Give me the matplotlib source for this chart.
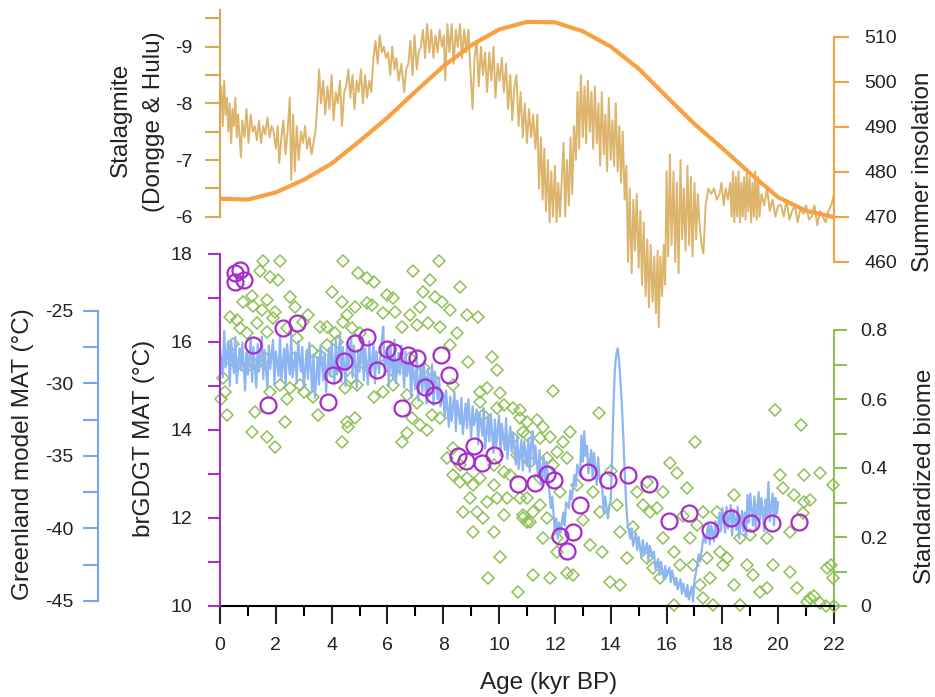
import numpy as np
import matplotlib
matplotlib.use("Agg")
import matplotlib.pyplot as plt
from matplotlib.ticker import MultipleLocator

plt.rcParams['font.family'] = ['Liberation Sans', 'DejaVu Sans']
plt.rcParams['axes.unicode_minus'] = False

# ---- data ----
# stalagmite d18O (Dongge & Hulu), (age kyr BP, permil)
stalagmite = [
    (0.00, -7.9), (0.05, -8.3), (0.10, -7.6), (0.15, -8.4), (0.20, -7.8), (0.25, -8.1), (0.30, -7.5),
    (0.35, -8.0), (0.40, -7.3), (0.45, -7.9), (0.50, -7.6), (0.55, -8.1), (0.60, -7.4), (0.65, -7.8),
    (0.75, -7.05), (0.80, -7.7), (0.88, -7.4), (0.95, -7.9), (1.02, -7.3), (1.10, -7.8), (1.17, -7.5),
    (1.25, -7.6), (1.32, -7.35), (1.40, -7.7), (1.47, -7.3), (1.55, -7.6), (1.62, -7.45), (1.70, -7.75),
    (1.78, -7.4), (1.85, -7.6), (1.92, -7.5), (2.00, -7.2), (2.07, -7.6), (2.12, -6.95), (2.20, -7.4),
    (2.27, -7.7), (2.35, -7.1), (2.42, -7.5), (2.50, -8.1), (2.55, -6.65), (2.62, -7.8), (2.68, -6.8),
    (2.75, -7.6), (2.82, -7.0), (2.90, -7.5), (2.97, -7.3), (3.05, -7.6), (3.12, -7.2), (3.20, -7.4),
    (3.28, -7.1), (3.35, -7.3), (3.42, -7.5), (3.50, -8.1), (3.55, -8.6), (3.62, -8.0), (3.70, -8.4),
    (3.77, -7.8), (3.85, -8.3), (3.92, -7.9), (4.00, -8.5), (4.07, -7.7), (4.15, -8.2), (4.22, -8.0),
    (4.30, -8.4), (4.37, -7.6), (4.45, -8.2), (4.52, -8.3), (4.60, -8.6), (4.67, -8.1), (4.75, -8.5),
    (4.82, -7.9), (4.90, -8.4), (4.97, -8.2), (5.05, -8.6), (5.12, -8.0), (5.20, -8.5), (5.27, -8.1),
    (5.35, -8.4), (5.42, -8.2), (5.50, -8.8), (5.57, -9.1), (5.65, -8.7), (5.72, -9.2), (5.80, -8.9),
    (5.87, -9.0), (5.95, -8.8), (6.02, -8.9), (6.10, -8.5), (6.17, -9.0), (6.25, -8.6), (6.32, -8.8),
    (6.40, -8.4), (6.50, -8.7), (6.60, -8.2), (6.67, -8.6), (6.75, -8.7), (6.82, -9.1), (6.90, -8.5),
    (6.97, -9.2), (7.05, -8.6), (7.12, -8.9), (7.20, -9.0), (7.27, -9.3), (7.35, -8.8), (7.42, -9.4),
    (7.50, -8.9), (7.57, -9.3), (7.65, -8.8), (7.72, -9.2), (7.80, -8.9), (7.87, -9.3), (7.95, -9.0),
    (8.02, -9.2), (8.07, -8.4), (8.15, -9.4), (8.22, -8.9), (8.30, -9.4), (8.37, -8.7), (8.45, -9.3),
    (8.52, -9.0), (8.60, -9.4), (8.67, -8.8), (8.75, -9.3), (8.82, -8.9), (8.90, -9.3), (8.97, -8.6),
    (9.05, -7.9), (9.12, -8.8), (9.20, -9.1), (9.27, -8.3), (9.35, -9.0), (9.42, -8.5), (9.50, -8.9),
    (9.57, -8.2), (9.65, -8.9), (9.72, -8.4), (9.80, -9.0), (9.87, -8.1), (9.95, -8.7), (10.02, -8.4),
    (10.10, -8.8), (10.17, -8.2), (10.25, -8.7), (10.32, -7.9), (10.40, -8.5), (10.47, -7.7), (10.55, -8.3),
    (10.62, -8.5), (10.70, -7.6), (10.77, -8.2), (10.85, -7.4), (10.92, -8.0), (11.00, -7.3), (11.07, -7.9),
    (11.15, -7.4), (11.22, -7.8), (11.30, -7.2), (11.37, -7.8), (11.43, -6.5), (11.50, -7.4), (11.56, -6.3),
    (11.62, -7.2), (11.68, -6.1), (11.75, -7.0), (11.81, -5.9), (11.87, -6.8), (11.93, -6.0), (12.00, -6.9),
    (12.06, -5.9), (12.12, -6.6), (12.18, -6.0), (12.25, -6.7), (12.31, -7.3), (12.37, -6.0), (12.43, -7.0),
    (12.50, -6.2), (12.56, -7.4), (12.62, -6.4), (12.68, -7.6), (12.75, -7.0), (12.81, -8.2), (12.87, -7.2),
    (12.93, -8.5), (13.00, -7.4), (13.06, -8.3), (13.12, -7.3), (13.18, -8.4), (13.25, -7.5), (13.31, -8.2),
    (13.37, -7.2), (13.43, -8.3), (13.50, -7.3), (13.56, -8.0), (13.62, -6.9), (13.68, -8.2), (13.75, -7.1),
    (13.81, -7.8), (13.87, -6.8), (13.93, -8.1), (14.00, -7.0), (14.06, -7.7), (14.12, -6.9), (14.18, -8.0),
    (14.25, -6.8), (14.31, -7.6), (14.37, -6.6), (14.43, -7.5), (14.50, -6.3), (14.56, -6.9), (14.62, -5.2),
    (14.68, -6.5), (14.75, -5.0), (14.81, -6.3), (14.87, -5.4), (14.93, -6.4), (15.00, -5.1), (15.06, -6.1),
    (15.12, -4.8), (15.18, -5.9), (15.25, -4.6), (15.31, -5.6), (15.37, -4.4), (15.43, -5.5), (15.50, -4.5),
    (15.56, -5.3), (15.62, -4.3), (15.68, -5.4), (15.72, -4.05), (15.78, -5.3), (15.84, -4.6), (15.90, -5.5),
    (15.95, -4.8), (16.00, -6.8), (16.06, -5.3), (16.12, -7.1), (16.18, -5.5), (16.25, -6.8), (16.31, -5.2),
    (16.37, -6.6), (16.43, -5.0), (16.50, -7.0), (16.56, -5.6), (16.62, -6.5), (16.68, -5.4), (16.75, -6.9),
    (16.81, -5.5), (16.87, -6.7), (16.93, -5.3), (17.00, -6.6), (17.06, -5.6), (17.12, -6.4), (17.18, -5.9),
    (17.25, -5.5), (17.32, -5.35), (17.40, -6.2), (17.50, -6.5), (17.60, -6.4), (17.70, -6.5), (17.80, -6.3),
    (17.90, -6.4), (17.97, -6.6), (18.05, -6.2), (18.12, -6.5), (18.20, -6.3), (18.28, -6.6), (18.33, -6.0),
    (18.38, -6.8), (18.43, -5.9), (18.48, -6.7), (18.53, -6.0), (18.58, -6.8), (18.63, -5.9), (18.68, -6.6),
    (18.73, -6.0), (18.78, -6.7), (18.83, -5.95), (18.88, -6.8), (18.93, -6.1), (18.98, -6.7), (19.03, -5.9),
    (19.08, -6.6), (19.13, -6.0), (19.18, -6.8), (19.23, -5.95), (19.28, -6.7), (19.33, -6.0), (19.40, -6.4),
    (19.50, -6.2), (19.60, -6.5), (19.70, -6.1), (19.80, -6.3), (19.90, -6.0), (20.00, -6.2), (20.10, -6.2),
    (20.20, -6.0), (20.30, -6.3), (20.40, -5.95), (20.50, -6.1), (20.60, -6.2), (20.70, -5.9), (20.80, -6.15),
    (20.90, -6.05), (21.00, -6.2), (21.10, -5.95), (21.20, -6.0), (21.30, -6.2), (21.40, -5.85), (21.50, -6.1),
    (21.60, -6.0), (21.70, -5.9), (21.80, -6.1), (21.90, -6.2), (22.00, -6.4),
]

# summer insolation
ins_age = [0, 1, 2, 3, 4, 5, 6, 7, 8, 9, 10, 11, 12, 13, 14, 15, 16, 17, 18, 19, 20, 21, 22]
ins_val = [474.0, 473.8, 475.4, 478.2, 481.8, 486.8, 492.0, 497.8, 503.4, 508.1, 511.6, 513.3, 513.2,
           511.2, 507.8, 502.9, 496.7, 490.6, 485.2, 479.6, 474.3, 471.3, 469.9]

# Greenland model MAT
greenland = [
    (0.0, -27.5), (0.1, -29.6), (0.15, -26.4), (0.2, -28.9), (0.3, -27.1), (0.35, -30.2), (0.4, -27.0),
    (0.5, -29.3), (0.55, -26.8), (0.6, -30.0), (0.7, -27.6), (0.75, -29.1), (0.8, -27.2), (0.9, -30.5),
    (0.95, -27.9), (1.0, -29.4), (1.1, -26.9), (1.15, -29.9), (1.2, -27.5), (1.3, -30.3), (1.35, -27.3),
    (1.4, -29.2), (1.5, -26.8), (1.55, -29.7), (1.6, -27.7), (1.7, -30.4), (1.75, -27.4), (1.8, -29.0),
    (1.9, -27.0), (1.95, -30.1), (2.0, -27.8), (2.1, -29.5), (2.15, -26.7), (2.2, -29.8), (2.3, -27.6),
    (2.35, -30.2), (2.4, -27.3), (2.5, -29.4), (2.55, -26.6), (2.6, -29.6), (2.7, -27.9), (2.75, -30.0),
    (2.8, -27.1), (2.9, -29.2), (2.95, -27.5), (3.0, -30.3), (3.1, -27.8), (3.15, -29.7), (3.2, -27.2),
    (3.3, -30.5), (3.35, -28.0), (3.4, -31.0), (3.5, -28.2), (3.55, -30.1), (3.6, -27.4), (3.7, -29.8),
    (3.75, -27.9), (3.8, -30.6), (3.9, -27.6), (3.95, -29.5), (4.0, -27.3), (4.1, -30.0), (4.15, -27.0),
    (4.2, -29.4), (4.3, -26.7), (4.35, -29.9), (4.4, -27.5), (4.5, -30.2), (4.55, -27.2), (4.6, -29.1),
    (4.7, -26.8), (4.75, -29.6), (4.8, -27.4), (4.9, -30.3), (4.95, -27.7), (5.0, -29.2), (5.1, -26.9),
    (5.15, -29.8), (5.2, -27.6), (5.3, -30.1), (5.35, -27.1), (5.4, -29.5), (5.5, -27.3), (5.55, -30.0),
    (5.6, -27.8), (5.7, -29.3), (5.8, -27.0), (5.85, -26.1), (5.9, -29.4), (6.0, -27.5), (6.05, -30.2),
    (6.1, -27.3), (6.2, -29.7), (6.25, -27.0), (6.3, -30.0), (6.4, -27.9), (6.45, -29.4), (6.5, -27.4),
    (6.6, -30.3), (6.65, -27.8), (6.7, -29.5), (6.8, -28.4), (6.85, -31.0), (6.9, -28.6), (7.0, -30.4),
    (7.05, -28.2), (7.1, -31.2), (7.2, -28.8), (7.25, -30.6), (7.3, -28.5), (7.4, -31.4), (7.45, -29.0),
    (7.5, -30.9), (7.6, -28.7), (7.65, -31.5), (7.7, -29.2), (7.8, -31.1), (7.85, -29.6), (7.9, -31.6),
    (8.0, -30.7), (8.05, -32.4), (8.1, -30.5), (8.2, -33.0), (8.25, -30.9), (8.3, -32.6), (8.4, -30.6),
    (8.45, -33.3), (8.5, -31.2), (8.6, -32.8), (8.65, -31.0), (8.7, -33.5), (8.8, -31.4), (8.85, -33.1),
    (8.9, -31.1), (9.0, -33.7), (9.05, -31.6), (9.1, -32.9), (9.2, -31.8), (9.25, -34.2), (9.3, -32.0),
    (9.4, -33.6), (9.45, -31.7), (9.5, -34.5), (9.6, -32.3), (9.65, -34.0), (9.7, -32.1), (9.8, -34.8),
    (9.85, -32.5), (9.9, -34.3), (10.0, -32.2), (10.05, -35.0), (10.1, -32.8), (10.2, -34.6), (10.25, -32.4),
    (10.3, -35.2), (10.4, -33.0), (10.45, -34.7), (10.5, -33.4), (10.6, -35.6), (10.65, -33.6), (10.7, -35.9),
    (10.8, -33.9), (10.85, -36.0), (10.9, -34.0), (11.0, -35.7), (11.05, -33.8), (11.1, -36.1), (11.15, -34.2),
    (11.2, -33.3), (11.25, -35.6), (11.3, -34.3), (11.4, -36.5), (11.45, -34.6), (11.5, -37.0), (11.6, -35.1),
    (11.65, -36.8), (11.7, -35.4), (11.8, -37.4), (11.85, -38.6), (11.9, -37.8), (12.0, -40.2), (12.05, -39.3),
    (12.1, -40.7), (12.15, -39.6), (12.2, -40.3), (12.3, -38.9), (12.35, -39.8), (12.4, -38.2), (12.5, -38.6),
    (12.55, -37.4), (12.6, -38.0), (12.7, -36.3), (12.75, -37.1), (12.8, -35.6), (12.9, -36.4), (12.95, -33.6),
    (13.0, -35.4), (13.05, -33.3), (13.1, -35.0), (13.15, -34.3), (13.2, -36.2), (13.3, -34.6), (13.35, -36.5),
    (13.4, -34.8), (13.5, -37.0), (13.55, -35.1), (13.6, -36.6), (13.7, -37.3), (13.75, -38.9), (13.8, -37.8),
    (13.9, -39.3), (13.95, -38.4), (14.0, -38.1), (14.05, -35.0), (14.1, -31.5), (14.15, -29.0), (14.2, -28.0),
    (14.25, -27.6), (14.3, -28.4), (14.35, -30.0), (14.4, -31.5), (14.45, -33.6), (14.5, -36.0), (14.55, -38.2),
    (14.6, -39.6), (14.7, -40.7), (14.75, -40.0), (14.8, -41.2), (14.9, -40.3), (14.95, -41.5), (15.0, -40.6),
    (15.1, -42.0), (15.15, -40.8), (15.2, -41.7), (15.3, -41.0), (15.35, -42.3), (15.4, -41.2), (15.5, -42.0),
    (15.55, -41.6), (15.6, -42.8), (15.7, -42.1), (15.75, -43.2), (15.8, -42.3), (15.9, -43.5), (15.95, -42.6),
    (16.0, -43.3), (16.1, -42.7), (16.15, -43.7), (16.2, -42.9), (16.3, -43.9), (16.35, -43.4), (16.4, -44.2),
    (16.5, -43.5), (16.55, -44.5), (16.6, -43.8), (16.7, -44.7), (16.75, -43.9), (16.8, -44.9), (16.9, -44.0),
    (16.95, -45.05), (17.0, -43.6), (17.1, -42.5), (17.15, -41.8), (17.2, -42.3), (17.3, -40.9), (17.35, -40.45),
    (17.4, -41.0), (17.5, -39.6), (17.55, -41.1), (17.6, -39.8), (17.7, -40.9), (17.75, -39.5), (17.8, -40.6),
    (17.9, -38.9), (17.95, -40.2), (18.0, -38.6), (18.1, -40.3), (18.15, -38.5), (18.2, -40.0), (18.3, -38.4),
    (18.35, -40.5), (18.4, -38.7), (18.5, -40.1), (18.55, -38.5), (18.6, -40.7), (18.7, -38.8), (18.75, -40.2),
    (18.8, -38.9), (18.85, -40.6), (18.9, -37.7), (18.95, -39.6), (19.0, -37.6), (19.1, -39.8), (19.15, -37.8),
    (19.2, -40.0), (19.3, -37.5), (19.35, -39.4), (19.4, -37.9), (19.5, -40.2), (19.55, -38.0), (19.6, -39.1),
    (19.65, -36.8), (19.7, -39.5), (19.8, -37.6), (19.85, -39.8), (19.9, -37.9), (19.95, -39.0), (20.0, -38.2),
]

# brGDGT MAT (circles)
gdgt_age = [0.54, 0.72, 0.54, 0.86, 1.19, 1.73, 2.25, 2.77, 3.86, 4.06, 4.44, 4.84, 5.26, 5.62, 5.97,
            6.24, 6.51, 6.75, 7.05, 7.35, 7.65, 7.92, 8.22, 8.51, 8.81, 9.10, 9.40, 9.82, 10.69, 11.29,
            11.71, 11.97, 12.18, 12.45, 12.66, 12.90, 13.18, 13.89, 14.63, 15.37, 16.10, 16.82, 17.56,
            18.30, 19.03, 19.77, 20.73]
gdgt_mat = [17.56, 17.63, 17.36, 17.41, 15.93, 14.57, 16.31, 16.43, 14.63, 15.25, 15.57, 15.97, 16.11,
            15.37, 15.84, 15.76, 14.50, 15.69, 15.63, 14.97, 14.80, 15.69, 15.25, 13.40, 13.30, 13.64,
            13.24, 13.42, 12.78, 12.80, 13.00, 12.85, 11.60, 11.26, 11.69, 12.29, 13.04, 12.87, 12.97,
            12.78, 11.93, 12.11, 11.72, 12.00, 11.89, 11.89, 11.91]

# standardized biome (diamonds)
biome = [
    (1.55, 1.00), (2.15, 1.00), (1.43, 0.97), (1.79, 0.955), (1.14, 0.90), (0.84, 0.88), (1.19, 0.87),
    (1.67, 0.887), (2.09, 0.945), (2.51, 0.897), (2.69, 0.868), (1.97, 0.853), (1.49, 0.858), (1.91, 0.834),
    (0.36, 0.839), (0.60, 0.829), (0.96, 0.79), (0.72, 0.805), (1.67, 0.795), (1.31, 0.819), (3.17, 0.843),
    (2.99, 0.824), (3.58, 0.81), (3.82, 0.81), (2.39, 0.805), (2.75, 0.776), (0.18, 0.621), (0.24, 0.554),
    (1.25, 0.563), (1.14, 0.505), (1.67, 0.491), (1.97, 0.462), (2.33, 0.534), (1.79, 0.621), (2.15, 0.641),
    (2.51, 0.631), (2.87, 0.641), (3.35, 0.607), (3.52, 0.554), (4.42, 1.00), (4.96, 0.964), (5.26, 0.95),
    (5.50, 0.94), (4.00, 0.911), (4.36, 0.882), (4.54, 0.843), (4.84, 0.868), (5.26, 0.877), (5.44, 0.872),
    (5.97, 0.901), (6.21, 0.892), (5.85, 0.848), (6.27, 0.853), (6.51, 0.81), (4.42, 0.824), (4.72, 0.805),
    (5.02, 0.79), (4.12, 0.79), (4.18, 0.766), (3.82, 0.757), (3.58, 0.728), (4.48, 0.631), (4.90, 0.641),
    (5.50, 0.607), (5.85, 0.621), (6.21, 0.641), (4.54, 0.534), (4.84, 0.544), (4.36, 0.476), (4.60, 0.52),
    (6.93, 0.971), (7.83, 1.00), (7.53, 0.945), (7.29, 0.911), (7.71, 0.897), (7.95, 0.882), (7.17, 0.868),
    (6.81, 0.843), (7.05, 0.814), (7.47, 0.819), (7.89, 0.81), (8.24, 0.858), (8.60, 0.926), (8.84, 0.843),
    (9.26, 0.839), (8.48, 0.79), (8.24, 0.757), (8.90, 0.708), (9.74, 0.723), (9.92, 0.684), (6.69, 0.612),
    (7.05, 0.588), (6.87, 0.544), (7.17, 0.525), (6.69, 0.501), (6.51, 0.476), (7.41, 0.51), (7.59, 0.554),
    (7.89, 0.544), (8.36, 0.641), (9.32, 0.621), (9.56, 0.631), (10.04, 0.617), (10.16, 0.583), (9.32, 0.592),
    (9.44, 0.554), (9.92, 0.573), (10.51, 0.573), (10.75, 0.544), (10.87, 0.505), (10.51, 0.486), (8.36, 0.38),
    (8.60, 0.36), (8.84, 0.37), (9.08, 0.351), (9.32, 0.37), (8.96, 0.312), (8.72, 0.273), (9.20, 0.273),
    (9.44, 0.254), (9.56, 0.302), (9.80, 0.351), (9.92, 0.312), (10.16, 0.264), (9.80, 0.215), (9.08, 0.215),
    (10.27, 0.312), (10.75, 0.312), (10.87, 0.264), (10.99, 0.244), (10.04, 0.143), (9.62, 0.08), (10.69, 0.041),
    (8.36, 0.457), (8.12, 0.428), (8.60, 0.409), (9.80, 0.409), (10.16, 0.389), (10.39, 0.38), (10.63, 0.438),
    (0.05, 0.60), (0.12, 0.66), (0.30, 0.72), (0.45, 0.76), (0.62, 0.70), (0.92, 0.69), (1.30, 0.70),
    (1.60, 0.72), (2.40, 0.60), (3.00, 0.62), (2.70, 0.72), (3.30, 0.74), (4.00, 0.68), (4.70, 0.66),
    (5.20, 0.70), (5.70, 0.72), (6.20, 0.68), (6.80, 0.72), (7.30, 0.69), (7.60, 0.66),
    (11.92, 0.624), (13.59, 0.558), (17.02, 0.474), (19.89, 0.568), (20.82, 0.525), (10.75, 0.568),
    (10.99, 0.534), (11.35, 0.539), (11.59, 0.52), (10.99, 0.496), (11.47, 0.486), (11.83, 0.491),
    (12.30, 0.476), (12.54, 0.505), (12.06, 0.447), (12.42, 0.428), (11.71, 0.428), (11.11, 0.418),
    (11.47, 0.37), (11.94, 0.409), (10.99, 0.312), (11.23, 0.273), (10.87, 0.254), (11.11, 0.244),
    (11.47, 0.293), (11.71, 0.254), (11.59, 0.196), (12.06, 0.196), (12.06, 0.157), (11.23, 0.09),
    (11.83, 0.08), (12.42, 0.095), (12.66, 0.09), (13.38, 0.331), (13.62, 0.273), (13.26, 0.177),
    (13.68, 0.157), (13.98, 0.07), (14.33, 0.061), (14.21, 0.293), (14.33, 0.215), (14.57, 0.138),
    (14.93, 0.331), (15.17, 0.293), (15.41, 0.273), (15.65, 0.283), (15.89, 0.331), (16.13, 0.414),
    (16.37, 0.385), (16.72, 0.341), (15.89, 0.196), (16.25, 0.157), (16.48, 0.119), (15.53, 0.109),
    (15.29, 0.138), (15.77, 0.08), (16.25, 0.003), (16.84, 0.196), (17.08, 0.235), (17.32, 0.273),
    (17.80, 0.273), (17.44, 0.138), (17.92, 0.157), (18.16, 0.138), (18.40, 0.322), (18.64, 0.196),
    (18.87, 0.119), (19.11, 0.09), (19.35, 0.041), (19.59, 0.051), (19.83, 0.119), (20.07, 0.38),
    (20.19, 0.341), (20.55, 0.322), (20.91, 0.38), (21.50, 0.385), (20.91, 0.302), (21.14, 0.307),
    (20.43, 0.215), (20.67, 0.051), (20.43, 0.099), (21.14, 0.022), (21.74, 0.109), (21.98, 0.351),
    (17.68, 0.003), (18.40, 0.061), (17.20, 0.061), (17.32, 0.022), (18.64, 0.003), (18.99, 0.206),
    (19.59, 0.196), (18.04, 0.119), (17.56, 0.08), (16.96, 0.119), (21.98, 0.08), (21.50, 0.008),
    (21.02, 0.012), (21.30, 0.03), (21.70, 0.0), (22.0, 0.0), (21.9, 0.12), (20.9, 0.27), (12.8, 0.35),
    (12.2, 0.33), (13.0, 0.25), (14.0, 0.39), (14.8, 0.23), (15.3, 0.36), (16.6, 0.26), (19.3, 0.28),
]

x_ticks = [0, 2, 4, 6, 8, 10, 12, 14, 16, 18, 20, 22]

# ---- colours ----
c_stal = '#DCB46C'
c_stal_ax = '#D8A84E'
c_ins = '#F9A040'
c_gdgt = '#A82BCB'
c_gl = '#8DB5F2'
c_gl_ax = '#72A5F4'
c_bio = '#8DC153'

W, H = 935, 697
fig = plt.figure(figsize=(W / 100, H / 100), dpi=100)
left, right, bottom, top = 220, 834, 606, 10  # pixel box
ax_bio = fig.add_axes([left / W, 1 - bottom / H, (right - left) / W, (bottom - top) / H])
ax_gl = ax_bio.twinx()
ax_gd = ax_bio.twinx()
ax_st = ax_bio.twinx()
ax_in = ax_bio.twinx()


def lim_from_px(v1, y1, v2, y2):
    # value at bottom and top pixel rows of the shared box
    s = (v2 - v1) / (y2 - y1)
    return v1 + (bottom - y1) * s, v1 + (top - y1) * s


ax_bio.set_ylim(*lim_from_px(0.8, 330, 0.0, 606))
ax_gl.set_ylim(*lim_from_px(-25, 310.7, -45, 601))
ax_gd.set_ylim(*lim_from_px(18, 254, 10, 606.7))
ax_st.set_ylim(*lim_from_px(-9, 46.7, -6, 216.7))
ax_in.set_ylim(*lim_from_px(510, 36.7, 470, 216.7))
ax_bio.set_xlim(0, 22)

# ---- data ----
b = np.array(biome)
ax_bio.plot(b[:, 0], b[:, 1], ls='none', marker='D', ms=6.6, mfc='none', mec=c_bio, mew=1.1,
            clip_on=False)
g = np.array(greenland)
ax_gl.plot(g[:, 0], g[:, 1], color=c_gl, lw=1.6)
ax_gd.plot(gdgt_age, gdgt_mat, ls='none', marker='o', ms=11.5, mfc='none', mec=c_gdgt, mew=1.6)
s = np.array(stalagmite)
ax_st.plot(s[:, 0], s[:, 1], color=c_stal, lw=1.4)
ax_in.plot(ins_age, ins_val, color=c_ins, lw=3)

for a in (ax_bio, ax_gl, ax_gd, ax_st, ax_in):
    for sp in a.spines.values():
        sp.set_visible(False)
    a.patch.set_visible(False)
    a.tick_params(axis='y', left=False, right=False, labelleft=False, labelright=False)

fs = 14
# x axis
ax_bio.spines['bottom'].set_visible(True)
ax_bio.spines['bottom'].set_bounds(0, 22)
ax_bio.spines['bottom'].set_linewidth(1.5)
ax_bio.set_xticks(x_ticks)
ax_bio.xaxis.set_minor_locator(MultipleLocator(1))
ax_bio.tick_params(axis='x', which='major', direction='out', length=13, width=1.5, pad=9,
                   labelsize=fs, colors='#222222')
ax_bio.tick_params(axis='x', which='minor', direction='out', length=7, width=1.5)


def style_y(a, side, color, bounds, major, minor, tlen, pad, offset=0):
    sp = a.spines[side]
    sp.set_visible(True)
    sp.set_color(color)
    sp.set_linewidth(1.5)
    sp.set_bounds(*bounds)
    if offset:
        sp.set_position(('outward', offset))
    if side == 'left':
        a.yaxis.tick_left()
    else:
        a.yaxis.tick_right()
    a.set_yticks(major)
    if minor:
        a.yaxis.set_minor_locator(MultipleLocator(minor))
    a.tick_params(axis='y', which='both', direction='out', length=tlen, width=1.5, color=color,
                  labelcolor='#222222', labelsize=fs, pad=pad,
                  left=(side == 'left'), right=(side == 'right'),
                  labelleft=(side == 'left'), labelright=(side == 'right'))


style_y(ax_bio, 'right', c_bio, (0, 0.8), [0, 0.2, 0.4, 0.6, 0.8], 0.1, 9, 10)
ax_bio.set_yticklabels(['0', '0.2', '0.4', '0.6', '0.8'])
style_y(ax_gl, 'left', c_gl_ax, (-45, -25), [-45, -40, -35, -30, -25], 2.5, 11, 7,
        offset=122 * 0.72)
style_y(ax_gd, 'left', c_gdgt, (10, 18), [10, 12, 14, 16, 18], 1, 9, 11)
style_y(ax_st, 'left', c_stal_ax, (-9.65, -6), [-9, -8, -7, -6], 0.5, 11, 9)
style_y(ax_in, 'right', c_ins, (460, 510), [460, 470, 480, 490, 500, 510], None, 11, 11)

# minor ticks only inside the spine bounds
ax_st.yaxis.set_minor_locator(plt.FixedLocator([-9.5, -8.5, -7.5, -6.5]))
ax_gd.yaxis.set_minor_locator(plt.FixedLocator([11, 13, 15, 17]))
ax_gl.yaxis.set_minor_locator(plt.FixedLocator([-42.5, -37.5, -32.5, -27.5]))
ax_bio.yaxis.set_minor_locator(plt.FixedLocator([0.1, 0.3, 0.5, 0.7]))

# ---- axis titles ----
lab = dict(fontsize=17.5, color='#222222', rotation=90, ha='center', va='center')
fig.text(23 / W, 1 - 454 / H, 'Greenland model MAT (°C)', **lab)
fig.text(144 / W, 1 - 438 / H, 'brGDGT MAT (°C)', **lab)
fig.text(121 / W, 1 - 120 / H, 'Stalagmite', **lab)
fig.text(154 / W, 1 - 122 / H, '(Dongge & Hulu)', **lab)
fig.text(923 / W, 1 - 172 / H, 'Summer insolation', **lab)
fig.text(925 / W, 1 - 476 / H, 'Standardized biome', **lab)
fig.text(549 / W, 1 - 683 / H, 'Age (kyr BP)', fontsize=17.5, color='#222222', ha='center', va='center')

fig.savefig('out.png', dpi=100, facecolor='white')
